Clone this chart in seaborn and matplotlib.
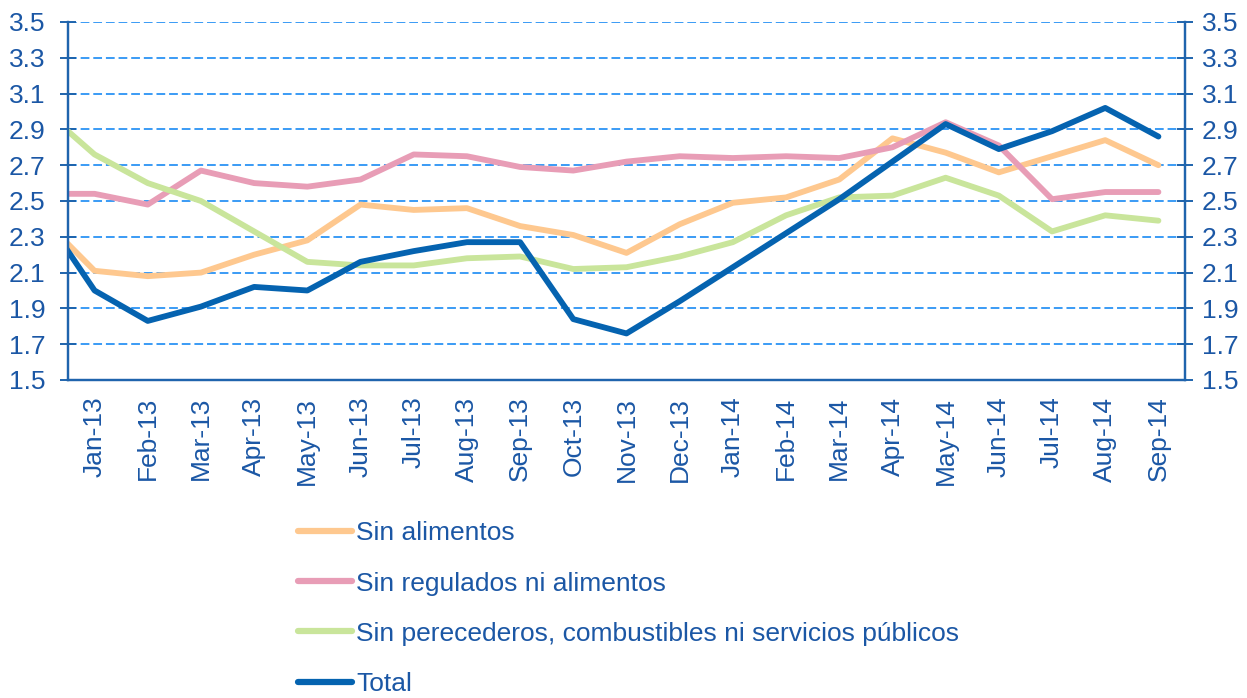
import numpy as np
import pandas as pd
import matplotlib
matplotlib.use('Agg')
import matplotlib.pyplot as plt
import seaborn as sns

# monthly annual inflation (%); Dec-12 is only there so the lines start at the left edge
months = ['Dec-12', 'Jan-13', 'Feb-13', 'Mar-13', 'Apr-13', 'May-13', 'Jun-13', 'Jul-13',
          'Aug-13', 'Sep-13', 'Oct-13', 'Nov-13', 'Dec-13', 'Jan-14', 'Feb-14', 'Mar-14',
          'Apr-14', 'May-14', 'Jun-14', 'Jul-14', 'Aug-14', 'Sep-14']
sin_alimentos = [2.41, 2.11, 2.08, 2.10, 2.20, 2.28, 2.48, 2.45, 2.46, 2.36, 2.31, 2.21,
                 2.37, 2.49, 2.52, 2.62, 2.85, 2.77, 2.66, 2.75, 2.84, 2.70]
sin_regulados = [2.54, 2.54, 2.48, 2.67, 2.60, 2.58, 2.62, 2.76, 2.75, 2.69, 2.67, 2.72,
                 2.75, 2.74, 2.75, 2.74, 2.80, 2.94, 2.81, 2.51, 2.55, 2.55]
sin_perecederos = [3.02, 2.76, 2.60, 2.50, 2.33, 2.16, 2.14, 2.14, 2.18, 2.19, 2.12, 2.13,
                   2.19, 2.27, 2.42, 2.52, 2.53, 2.63, 2.53, 2.33, 2.42, 2.39]
total = [2.44, 2.00, 1.83, 1.91, 2.02, 2.00, 2.16, 2.22, 2.27, 2.27, 1.84, 1.76,
         1.94, 2.13, 2.32, 2.51, 2.72, 2.93, 2.79, 2.89, 3.02, 2.86]

names = ['Sin alimentos', 'Sin regulados ni alimentos',
         'Sin perecederos, combustibles ni servicios públicos', 'Total']
colors = ['#FEC88F', '#E89DB6', '#C9E59B', '#0563B0']

x = np.arange(len(months))
df = pd.concat([pd.DataFrame({'x': x, 'valor': v, 'serie': n})
                for n, v in zip(names, [sin_alimentos, sin_regulados, sin_perecederos, total])])

sns.set_style('white')
plt.rcParams['font.family'] = ['Liberation Sans', 'DejaVu Sans']
blue_txt = '#1B57A5'
axis_col = '#1F64AD'
grid_col = '#3A9BF5'
fs = 19

fig = plt.figure(figsize=(12.47, 6.98), dpi=100)
ax = fig.add_axes([0.0545, 0.4556, 0.8958, 0.5129])

sns.lineplot(data=df, x='x', y='valor', hue='serie', hue_order=names,
             palette=colors, linewidth=4.2, ax=ax, legend=False, sort=False)

ax.set_xlim(0.5, len(months) - 0.5)
ax.set_ylim(1.5, 3.5)
yt = np.round(np.arange(1.5, 3.51, 0.2), 1)
ax.set_yticks(yt)
ax.set_yticklabels([f'{v:.1f}' for v in yt])
for v in yt[1:]:
    ax.axhline(v, color=grid_col, lw=1.4, ls=(0, (4.5, 2)), zorder=0)

ax.set_xticks(x[1:])
ax.set_xticklabels(months[1:], rotation=90)
ax.set_xticks(np.arange(0.5, len(months), 1), minor=True)
ax.tick_params(axis='x', which='major', length=0, pad=12, labelsize=fs, labelcolor=blue_txt)
ax.tick_params(axis='x', which='minor', length=6, width=1.4, color=axis_col, direction='out')
ax.tick_params(axis='y', length=12, width=1.4, color=axis_col, direction='inout',
               labelsize=fs, labelcolor=blue_txt, pad=10)
ax.set_xlabel('')
ax.set_ylabel('')

ax2 = ax.twinx()
ax2.set_ylim(1.5, 3.5)
ax2.set_yticks(yt)
ax2.set_yticklabels([f'{v:.1f}' for v in yt])
ax2.tick_params(axis='y', length=12, width=1.4, color=axis_col, direction='inout',
                labelsize=fs, labelcolor=blue_txt, pad=6)

for a in (ax, ax2):
    a.spines['top'].set_visible(False)
    for s in ('left', 'right', 'bottom'):
        a.spines[s].set_color(axis_col)
        a.spines[s].set_linewidth(1.6)

handles = [plt.Line2D([], [], color=c, lw=4.5) for c in colors]
fig.legend(handles, names, loc='upper left', bbox_to_anchor=(0.239, 0.253),
           frameon=False, fontsize=fs, labelcolor=blue_txt, handlelength=2.05,
           handletextpad=0.15, labelspacing=0.99, borderpad=0, borderaxespad=0)

fig.savefig('out.png', dpi=100)
